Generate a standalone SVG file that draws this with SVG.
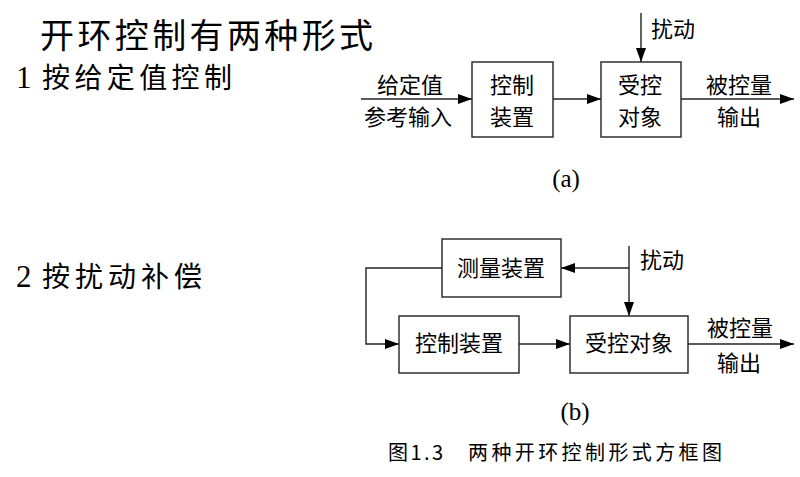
<svg xmlns="http://www.w3.org/2000/svg" width="800" height="477" viewBox="0 0 800 477">
<style>
text{font-family:"Noto Sans CJK SC","Noto Sans",sans-serif;fill:#000}
.h{font-family:"Liberation Serif","Noto Sans CJK SC",serif}
.lbl{font-size:22px}
.mid{text-anchor:middle}
.box{fill:#fff;stroke:#222;stroke-width:1.4}
.ln{fill:none;stroke:#222;stroke-width:1.4}
</style>
<defs>
<marker id="arr" markerUnits="userSpaceOnUse" markerWidth="14" markerHeight="10" refX="14" refY="5" orient="auto">
<path d="M0,0 L14,5 L0,10 z" fill="#000"/>
</marker>
</defs>
<rect width="800" height="477" fill="#fff"/>
<g id="headings">
<text x="40" y="48" font-size="34" textLength="333" lengthAdjust="spacing">开环控制有两种形式</text>
<text class="h" y="88" font-size="28"><tspan x="16" font-size="31">1</tspan><tspan x="42" textLength="190" lengthAdjust="spacing">按给定值控制</tspan></text>
<text class="h" y="287" font-size="28"><tspan x="16" font-size="31">2</tspan><tspan x="42" textLength="160" lengthAdjust="spacing">按扰动补偿</tspan></text>
</g>
<g id="connectors">
<line class="ln" x1="361" y1="99" x2="472" y2="99" marker-end="url(#arr)"/>
<line class="ln" x1="553" y1="99" x2="601" y2="99" marker-end="url(#arr)"/>
<line class="ln" x1="681" y1="99" x2="794" y2="99" marker-end="url(#arr)"/>
<line class="ln" x1="641" y1="13" x2="641" y2="62" marker-end="url(#arr)"/>
<polyline class="ln" points="442,268 366,268 366,344 399,344" marker-end="url(#arr)"/>
<line class="ln" x1="519" y1="344" x2="570" y2="344" marker-end="url(#arr)"/>
<line class="ln" x1="688" y1="344" x2="794" y2="344" marker-end="url(#arr)"/>
<line class="ln" x1="629" y1="246" x2="629" y2="316" marker-end="url(#arr)"/>
<line class="ln" x1="629" y1="268" x2="561" y2="268" marker-end="url(#arr)"/>
</g>
<g id="a-labels" class="lbl">
<text class="lbl mid" x="410" y="93">给定值</text>
<text class="lbl mid" x="408" y="125">参考输入</text>
<text class="lbl" x="651" y="37">扰动</text>
<text class="lbl mid" x="739" y="93">被控量</text>
<text class="lbl mid" x="739" y="125">输出</text>
<text class="h mid" x="566" y="187" font-size="25">(a)</text>
</g>
<g id="a-controller">
<rect class="box" x="472" y="62" width="81" height="75"/>
<text class="lbl mid" x="512" y="93">控制</text>
<text class="lbl mid" x="512" y="125">装置</text>
</g>
<g id="a-plant">
<rect class="box" x="601" y="62" width="80" height="75"/>
<text class="lbl mid" x="640" y="93">受控</text>
<text class="lbl mid" x="640" y="125">对象</text>
</g>
<g id="b-measure">
<rect class="box" x="442" y="239" width="119" height="58"/>
<text class="lbl mid" x="501" y="276">测量装置</text>
</g>
<g id="b-controller">
<rect class="box" x="399" y="316" width="120" height="57"/>
<text class="lbl mid" x="459" y="351">控制装置</text>
</g>
<g id="b-plant">
<rect class="box" x="570" y="316" width="118" height="57"/>
<text class="lbl mid" x="629" y="351">受控对象</text>
</g>
<g id="b-labels">
<text class="lbl" x="640" y="268">扰动</text>
<text class="lbl mid" x="740" y="336">被控量</text>
<text class="lbl mid" x="739" y="371">输出</text>
<text class="h mid" x="575" y="420" font-size="25">(b)</text>
</g>
<g id="caption">
<text y="460" font-size="20"><tspan x="388" textLength="55" lengthAdjust="spacing">图1.3</tspan><tspan x="468" textLength="254" lengthAdjust="spacing">两种开环控制形式方框图</tspan></text>
</g>
</svg>
